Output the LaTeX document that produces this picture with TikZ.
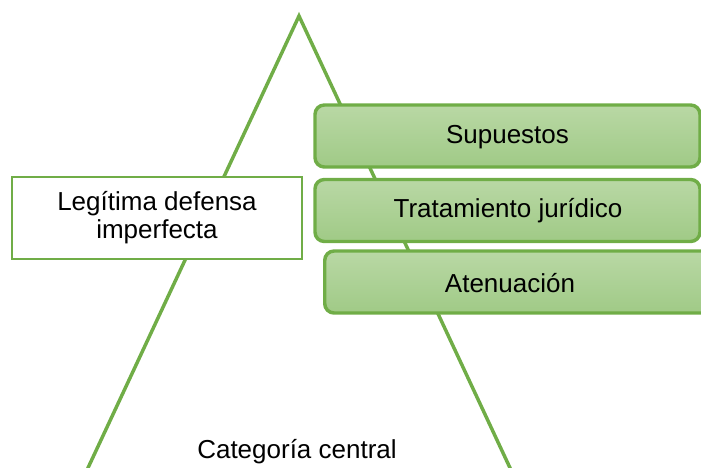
\documentclass[tikz,border=0pt]{standalone}
\usepackage{fontspec}
\setmainfont{Liberation Sans}
\definecolor{gline}{HTML}{70AD47}
\definecolor{gtop}{HTML}{B9D8A5}
\definecolor{gbot}{HTML}{A0CA86}
\begin{document}
\begin{tikzpicture}[x=0.75pt,y=-0.75pt,
  txt/.style={font=\fontsize{19.5}{22}\selectfont, text=black},
  gbox/.style={draw=gline, line width=2.6pt, rounded corners=7pt, top color=gtop, bottom color=gbot, minimum height=46.5pt, inner sep=0pt, txt},
  wbox/.style={draw=gline, line width=1.9pt, fill=white, minimum width=217.5pt, minimum height=61.5pt, align=center, inner sep=0pt, txt}
]
\useasboundingbox (0,0) rectangle (701,468);
\clip (0,0) rectangle (701,468);
% triangle
\coordinate (apex) at (299,16);
\coordinate (bl) at (73,500);
\coordinate (br) at (525,500);
\draw[gline, line width=2.6pt, line join=miter] (bl) -- (apex) -- (br);
% bottom label
\node[txt, anchor=base] (cat) at (297,458) {Categoría central};
% left box
\node[wbox] (leg) at (157,218) {Legítima defensa\\[-1pt]imperfecta};
% right boxes
\node[gbox, minimum width=288.75pt] (sup) at (507.5,136) {};
\node[txt] at (507.5,137) {Supuestos};
\node[gbox, minimum width=288.75pt] (tra) at (507.5,210.5) {};
\node[txt] at (508,211) {Tratamiento jurídico};
\node[gbox, minimum width=292pt, anchor=west] (ate) at (323,282) {};
\node[txt] at (510,283) {Atenuación};
\end{tikzpicture}
\end{document}
